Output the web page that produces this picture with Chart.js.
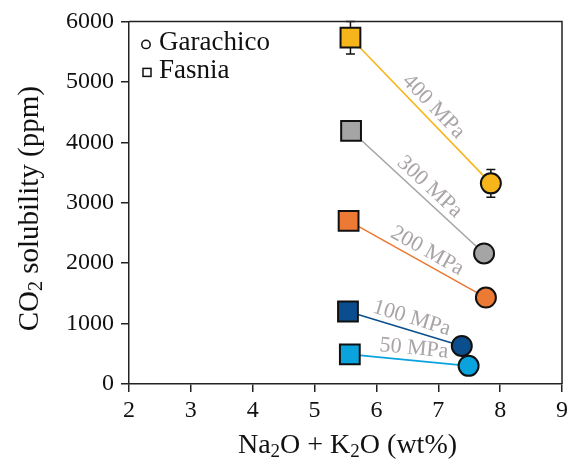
<!DOCTYPE html>
<html>
<head>
<meta charset="utf-8">
<script src="https://cdn.jsdelivr.net/npm/chart.js@4"></script>
<style>
  body { margin: 0; background: #fff; }
</style>
</head>
<body>
<canvas id="co2Chart" width="578" height="462"></canvas>
<script>
// data
const pressures = ['50 MPa', '100 MPa', '200 MPa', '300 MPa', '400 MPa'];
const fasniaAlkali = [5.57, 5.54, 5.55, 5.59, 5.58];
const fasniaCO2 = [490, 1200, 2700, 4190, 5730];
const fasniaErr = [0, 0, 0, 0, 270];
const garachicoAlkali = [7.49, 7.38, 7.77, 7.74, 7.85];
const garachicoCO2 = [300, 630, 1430, 2160, 3320];
const garachicoErr = [0, 0, 0, 0, 230];
const xTicks = [2, 3, 4, 5, 6, 7, 8, 9];
const yTicks = [0, 1000, 2000, 3000, 4000, 5000, 6000];

const lineColors = ['#0AA3DE', '#0B4E8E', '#EC7A35', '#A5A5A5', '#F7B51C'];
const serif = '"Liberation Serif", "Times New Roman", serif';
const axisInk = '#222';

const datasets = pressures.map((p, i) => ({
    label: p,
    data: [
        { x: fasniaAlkali[i], y: fasniaCO2[i] },
        { x: garachicoAlkali[i], y: garachicoCO2[i] }
    ],
    showLine: true,
    borderColor: lineColors[i],
    borderWidth: 1.6,
    backgroundColor: lineColors[i],
    pointStyle: ['rect', 'circle'],
    pointRadius: [14, 10],
    pointHoverRadius: [14, 10],
    pointBorderColor: '#111',
    pointBorderWidth: 2
}));

// draw text pieces with subscripts, centred on (0,0) of the current transform
function drawRich(ctx, parts, size) {
    const subSize = Math.round(size * 0.68);
    let total = 0;
    parts.forEach(p => {
        ctx.font = (p.sub ? subSize : size) + 'px ' + serif;
        p.w = ctx.measureText(p.t).width;
        total += p.w;
    });
    let x = -total / 2;
    parts.forEach(p => {
        ctx.font = (p.sub ? subSize : size) + 'px ' + serif;
        ctx.fillText(p.t, x, p.sub ? size * 0.22 : 0);
        x += p.w;
    });
}

const decorations = {
    id: 'decorations',
    beforeDatasetsDraw(chart) {
        const { ctx, scales: { x, y } } = chart;
        ctx.save();
        ctx.strokeStyle = '#111';
        ctx.lineWidth = 1.5;
        const bars = [[fasniaAlkali, fasniaCO2, fasniaErr], [garachicoAlkali, garachicoCO2, garachicoErr]];
        bars.forEach(([xs, ys, es]) => {
            xs.forEach((v, i) => {
                if (!es[i]) return;
                const px = x.getPixelForValue(v);
                const top = y.getPixelForValue(ys[i] + es[i]);
                const bot = y.getPixelForValue(ys[i] - es[i]);
                ctx.beginPath();
                ctx.moveTo(px, top); ctx.lineTo(px, bot);
                ctx.moveTo(px - 4.5, top); ctx.lineTo(px + 4.5, top);
                ctx.moveTo(px - 4.5, bot); ctx.lineTo(px + 4.5, bot);
                ctx.stroke();
            });
        });
        ctx.restore();
    },
    afterDatasetsDraw(chart) {
        const { ctx, chartArea: a, scales: { x, y } } = chart;
        ctx.save();

        // frame top and right
        ctx.strokeStyle = axisInk;
        ctx.lineWidth = 1.5;
        ctx.beginPath();
        ctx.moveTo(a.left, a.top); ctx.lineTo(a.right, a.top); ctx.lineTo(a.right, a.bottom);
        ctx.stroke();

        // pressure labels along the lines
        ctx.fillStyle = '#A9A4A6';
        ctx.font = '22px ' + serif;
        ctx.textAlign = 'center';
        ctx.textBaseline = 'middle';
        pressures.forEach((p, i) => {
            const x0 = x.getPixelForValue(fasniaAlkali[i]), y0 = y.getPixelForValue(fasniaCO2[i]);
            const x1 = x.getPixelForValue(garachicoAlkali[i]), y1 = y.getPixelForValue(garachicoCO2[i]);
            const dx = x1 - x0, dy = y1 - y0, len = Math.hypot(dx, dy);
            const t = 0.53, off = 12;
            const cx = x0 + dx * t + dy / len * off;
            const cy = y0 + dy * t - dx / len * off;
            ctx.save();
            ctx.translate(cx, cy);
            ctx.rotate(Math.atan2(dy, dx));
            ctx.fillText(p, 0, 0);
            ctx.restore();
        });

        // legend
        ctx.fillStyle = '#111';
        ctx.strokeStyle = '#111';
        ctx.lineWidth = 1.5;
        ctx.textAlign = 'left';
        ctx.textBaseline = 'alphabetic';
        ctx.font = '27px ' + serif;
        ctx.beginPath();
        ctx.arc(a.left + 17, a.top + 23, 4.2, 0, Math.PI * 2);
        ctx.stroke();
        ctx.fillText('Garachico', a.left + 30, a.top + 29);
        ctx.strokeRect(a.left + 14, a.top + 47, 8, 8);
        ctx.fillText('Fasnia', a.left + 30, a.top + 57);

        // axis titles
        ctx.textBaseline = 'middle';
        ctx.save();
        ctx.translate(30, (a.top + a.bottom) / 2 + 6);
        ctx.rotate(-Math.PI / 2);
        drawRich(ctx, [{ t: 'CO' }, { t: '2', sub: true }, { t: ' solubility (ppm)' }], 29);
        ctx.restore();
        ctx.save();
        ctx.translate((a.left + a.right) / 2 + 2, 446);
        drawRich(ctx, [{ t: 'Na' }, { t: '2', sub: true }, { t: 'O + K' }, { t: '2', sub: true }, { t: 'O (wt%)' }], 28);
        ctx.restore();

        ctx.restore();
    }
};

const ctx = document.getElementById('co2Chart').getContext('2d');
const co2Chart = new Chart(ctx, {
    type: 'scatter',
    data: { datasets },
    options: {
        responsive: false,
        animation: false,
        layout: { padding: { top: 20, right: 9, left: 0, bottom: 0 } },
        plugins: {
            legend: { display: false },
            tooltip: { enabled: false }
        },
        scales: {
            x: {
                type: 'linear',
                min: 2,
                max: 9,
                afterBuildTicks: s => { s.ticks = xTicks.map(v => ({ value: v })); },
                afterFit: s => { s.height = 78; },
                grid: { drawOnChartArea: false, drawTicks: true, tickLength: 8, color: axisInk, lineWidth: 1.5 },
                border: { display: true, color: axisInk, width: 1.5 },
                ticks: { color: '#111', font: { family: serif, size: 24 }, padding: 4, maxRotation: 0 }
            },
            y: {
                type: 'linear',
                min: 0,
                max: 6000,
                afterBuildTicks: s => { s.ticks = yTicks.map(v => ({ value: v })); },
                afterFit: s => { s.width = 129; },
                grid: { drawOnChartArea: false, drawTicks: true, tickLength: 8, color: axisInk, lineWidth: 1.5 },
                border: { display: true, color: axisInk, width: 1.5 },
                ticks: { color: '#111', font: { family: serif, size: 24 }, padding: 7, callback: v => v }
            }
        }
    },
    plugins: [decorations]
});
</script>
</body>
</html>
